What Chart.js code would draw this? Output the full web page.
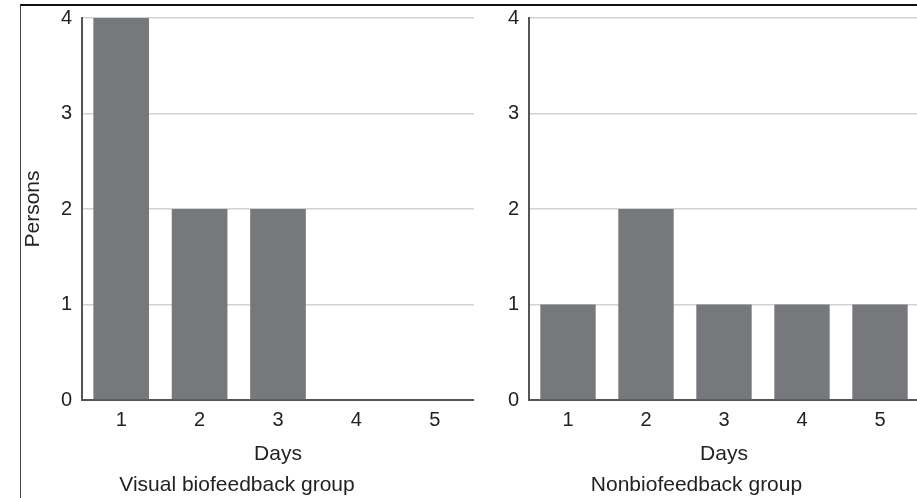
<!DOCTYPE html>
<html>
<head>
<meta charset="utf-8">
<script src="https://cdn.jsdelivr.net/npm/chart.js@4/dist/chart.umd.min.js"></script>
<style>
  html, body { margin: 0; padding: 0; width: 917px; height: 498px; overflow: hidden; background: #fff; }
  #c1 { position: absolute; left: 0; top: 0; }
  #c2 { position: absolute; left: 474px; top: 0; }
  #frame { position: absolute; left: 20px; top: 4px; width: 905px; height: 492px;
           border-top: 2px solid #111; border-left: 1px solid #444; border-bottom: 1px solid #999;
           pointer-events: none; z-index: 5; }
</style>
</head>
<body>
<canvas id="c1" width="474" height="498" style="width:474px;height:498px"></canvas>
<canvas id="c2" width="445" height="498" style="width:445px;height:498px"></canvas>
<div id="frame"></div>
<script>
// ---- data ----
const days = ['1', '2', '3', '4', '5'];
const visualBiofeedback = [4, 2, 2, 0, 0];
const nonBiofeedback = [1, 2, 1, 1, 1];
const yTicks = [0, 1, 2, 3, 4];
const yAxisTitle = 'Persons';
const xAxisTitle = 'Days';
const groupTitles = ['Visual biofeedback group', 'Nonbiofeedback group'];

const FONT = "'Liberation Sans', Arial, Helvetica, sans-serif";
const BAR = '#77787b';
const GRID = '#d2d2d2';
const AXIS = '#555';
const TEXT = '#222';

function makeChart(id, values, title, yWidth, showYTitle) {
  return new Chart(document.getElementById(id), {
    type: 'bar',
    data: {
      labels: days,
      datasets: [{
        data: values,
        backgroundColor: BAR,
        borderWidth: 0,
        barPercentage: 0.71,
        categoryPercentage: 1.0
      }]
    },
    options: {
      responsive: false,
      animation: false,
      layout: { autoPadding: false, padding: { top: 18, left: 0, right: 0, bottom: 0 } },
      plugins: {
        legend: { display: false },
        tooltip: { enabled: false },
        title: {
          display: true,
          position: 'bottom',
          text: title,
          color: TEXT,
          font: { family: FONT, size: 21, weight: 'normal', lineHeight: 1.2 },
          padding: { top: 0, bottom: 0 }
        }
      },
      scales: {
        x: {
          grid: { display: false, drawTicks: false },
          border: { display: true, color: AXIS, width: 2 },
          ticks: { color: TEXT, font: { family: FONT, size: 20 }, padding: 8, maxRotation: 0 },
          title: {
            display: true, text: xAxisTitle, color: TEXT,
            font: { family: FONT, size: 21, lineHeight: 1.2 },
            padding: { top: 0, bottom: 6 }
          },
          afterFit: (s) => { s.height = 72.8; s.paddingLeft = 0; s.paddingRight = 0; }
        },
        y: {
          min: 0, max: 4,
          afterBuildTicks: (s) => { s.ticks = yTicks.map(v => ({ value: v })); },
          grid: { display: true, color: GRID, lineWidth: 1.5, drawTicks: false },
          border: { display: true, color: AXIS, width: 2 },
          ticks: { color: TEXT, font: { family: FONT, size: 20 }, padding: 10 },
          title: {
            display: showYTitle, text: yAxisTitle, color: TEXT,
            font: { family: FONT, size: 21, lineHeight: 1.2 },
            padding: { top: 21, bottom: 0 }
          },
          afterFit: (s) => { s.width = yWidth; s.paddingTop = 0; s.paddingBottom = 0; }
        }
      }
    }
  });
}

makeChart('c1', visualBiofeedback, groupTitles[0], 82, true);
makeChart('c2', nonBiofeedback, groupTitles[1], 55, false);
</script>
</body>
</html>
